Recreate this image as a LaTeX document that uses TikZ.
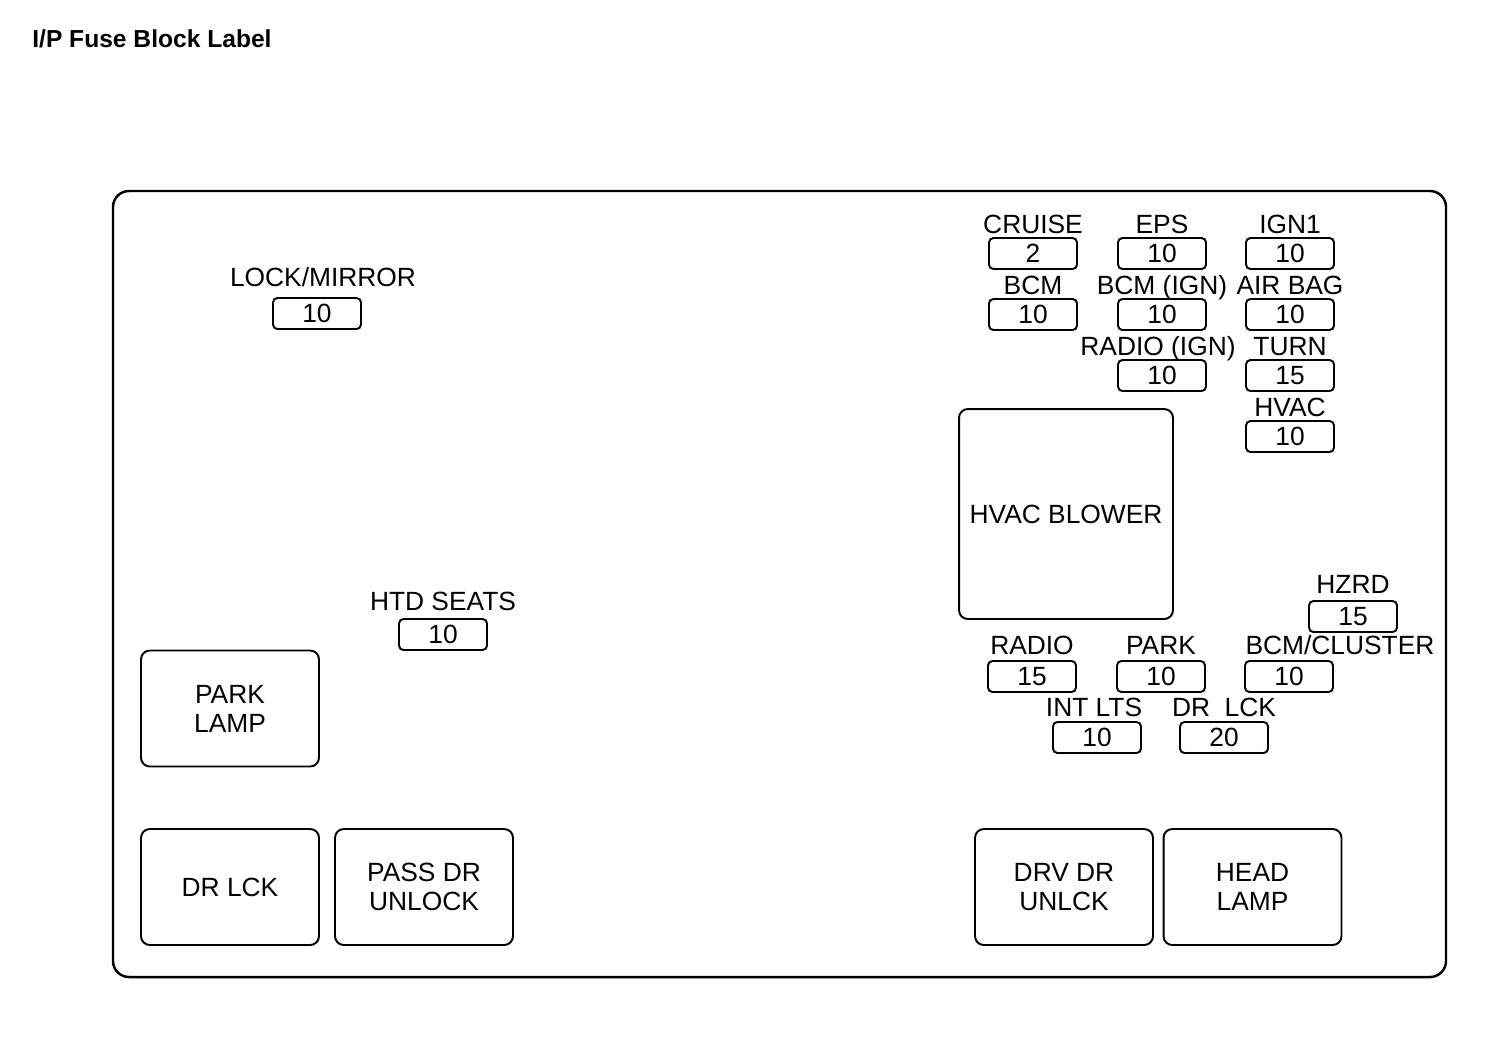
\documentclass[tikz,border=0pt]{standalone}
\usepackage{fontspec}
\setmainfont{Liberation Sans}

\begin{document}
\begin{tikzpicture}[x=0.02cm, y=-0.02cm, every node/.style={font=\fontsize{15}{16.5}\selectfont}, fuse/.style={draw, line width=1.1pt, rounded corners=2.5pt, minimum width=1.76cm, minimum height=0.62cm, inner sep=0pt}, lbl/.style={anchor=base, inner sep=0pt}, relay/.style={draw, line width=1.1pt, rounded corners=5pt, minimum width=3.56cm, minimum height=2.32cm, align=center, inner sep=0pt}]
	\useasboundingbox (0,0) rectangle (1504,1036);
	\node[anchor=base west, inner sep=0pt, font=\fontsize{14}{16}\selectfont\bfseries] (title) at (32,47) {I/P Fuse Block Label};
	\draw[line width=1.4pt, rounded corners=0.32cm] (113,191) rectangle (1446,977);
	% upper right fuses
	\node[lbl] (cruiseL) at (1033,233) {CRUISE};
	\node[fuse] (cruise) at (1033,253.5) {2};
	\node[lbl] (epsL) at (1162,233) {EPS};
	\node[fuse] (eps) at (1162,253.5) {10};
	\node[lbl] (ignL) at (1290,233) {IGN1};
	\node[fuse] (ign) at (1290,253.5) {10};
	\node[lbl] (bcmL) at (1033,294) {BCM};
	\node[fuse] (bcm) at (1033,314.5) {10};
	\node[lbl] (bcmignL) at (1162,294) {BCM (IGN)};
	\node[fuse] (bcmign) at (1162,314.5) {10};
	\node[lbl] (airbagL) at (1290,294) {AIR BAG};
	\node[fuse] (airbag) at (1290,314.5) {10};
	\node[lbl] (radioignL) at (1158,355) {RADIO (IGN)};
	\node[fuse] (radioign) at (1162,375.5) {10};
	\node[lbl] (turnL) at (1290,355) {TURN};
	\node[fuse] (turn) at (1290,375.5) {15};
	\node[lbl] (hvacL) at (1290,416) {HVAC};
	\node[fuse] (hvac) at (1290,436.5) {10};
	% left fuses
	\node[lbl] (lockL) at (323,286) {LOCK/MIRROR};
	\node[fuse] (lock) at (317,313.5) {10};
	\node[lbl] (seatsL) at (443,610) {HTD SEATS};
	\node[fuse] (seats) at (443,634.5) {10};
	% lower right fuses
	\node[lbl] (hzrdL) at (1353,593) {HZRD};
	\node[fuse] (hzrd) at (1353,616.5) {15};
	\node[lbl] (radioL) at (1032,654) {RADIO};
	\node[fuse] (radio) at (1032,676.5) {15};
	\node[lbl] (parkL) at (1161,654) {PARK};
	\node[fuse] (park) at (1161,676.5) {10};
	\node[lbl] (clusterL) at (1340,654) {BCM/CLUSTER};
	\node[fuse] (cluster) at (1289,676.5) {10};
	\node[lbl] (intltsL) at (1094,716) {INT LTS};
	\node[fuse] (intlts) at (1097,737.5) {10};
	\node[lbl] (drlckL) at (1224,716) {DR\ \ LCK};
	\node[fuse] (drlck) at (1224,737.5) {20};
	% relays
	\node[relay, minimum width=4.28cm, minimum height=4.2cm] (blower) at (1066,514) {HVAC BLOWER};
	\node[relay] (parklamp) at (230,708.5) {PARK\\LAMP};
	\node[relay] (drlckrly) at (230,887) {DR LCK};
	\node[relay] (passdr) at (424,887) {PASS DR\\UNLOCK};
	\node[relay] (drvdr) at (1064,887) {DRV DR\\UNLCK};
	\node[relay] (headlamp) at (1252.5,887) {HEAD\\LAMP};
\end{tikzpicture}
\end{document}
